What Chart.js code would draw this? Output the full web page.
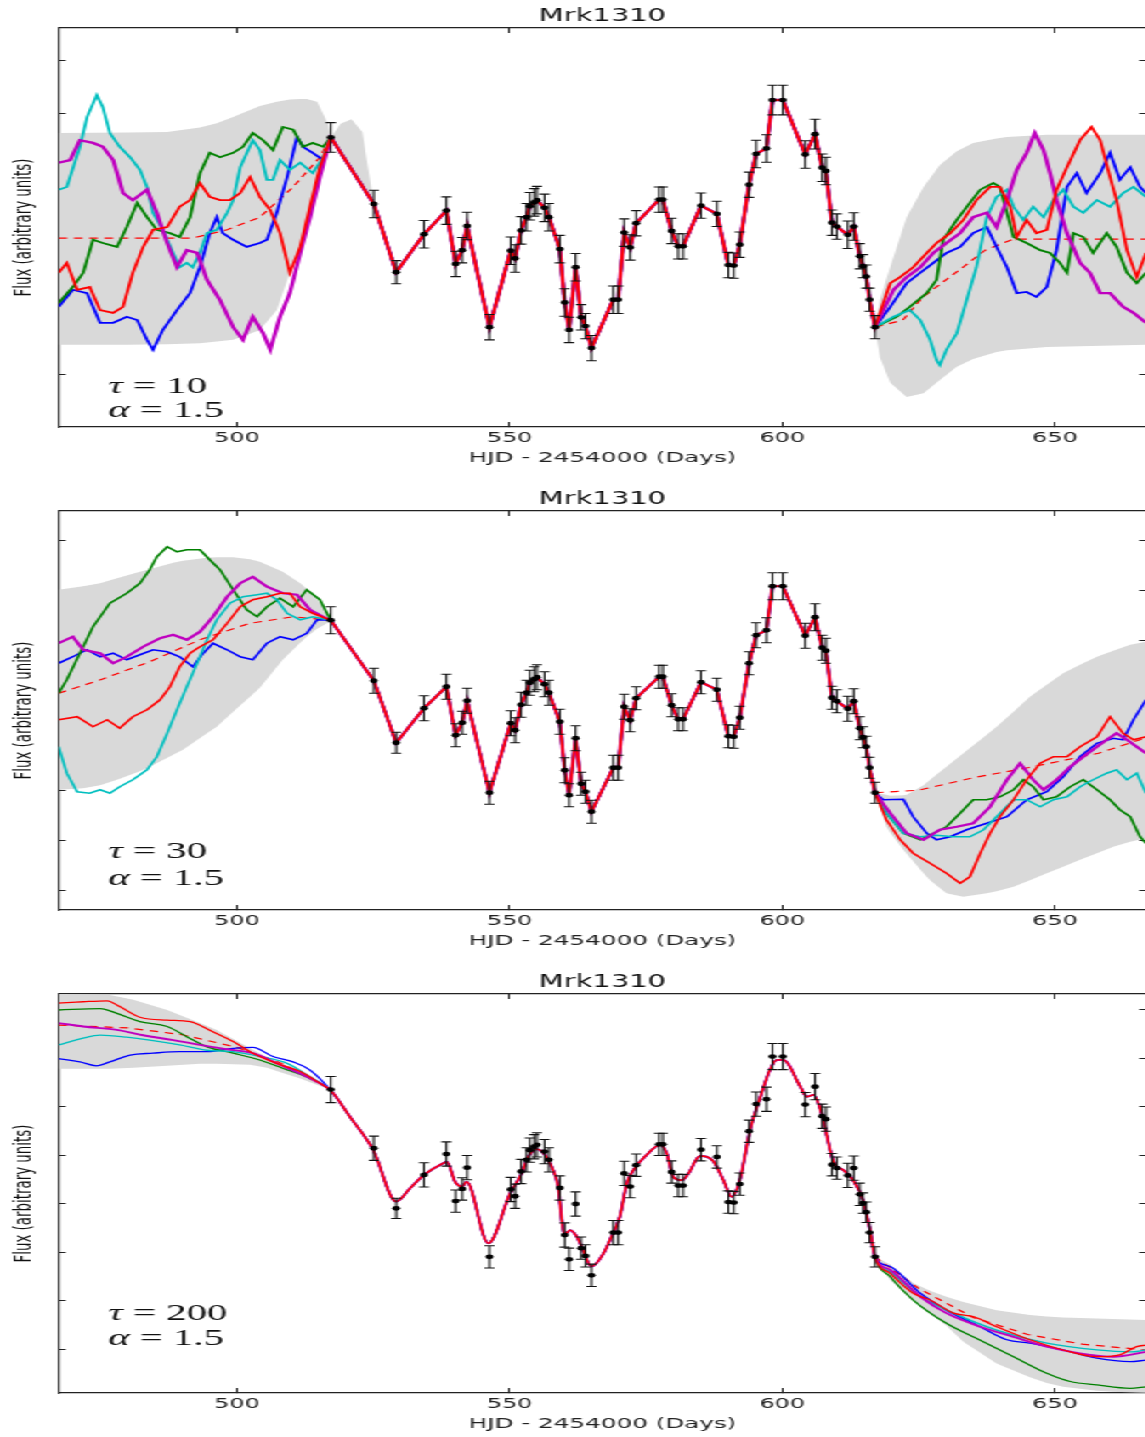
<!DOCTYPE html>
<html>
<head>
<meta charset="utf-8">
<title>Mrk1310</title>
<script src="https://cdn.jsdelivr.net/npm/chart.js@4.4.0/dist/chart.umd.min.js"></script>
<style>
  html, body { margin: 0; padding: 0; background: #fff; overflow: hidden; }
  /* the figure is drawn narrow and widened, which gives the stretched lettering */
  #stretch { width: 709px; transform: scaleX(1.6996); transform-origin: 0 0; }
  #stretch canvas { display: block; }
</style>
</head>
<body>
<div id="stretch">
  <canvas id="panel1" width="709" height="483"></canvas>
  <canvas id="panel2" width="709" height="483"></canvas>
  <canvas id="panel3" width="709" height="483"></canvas>
</div>
<script>
// Mrk1310 light curve with five simulated realisations per damping timescale

var xTicks = [500, 550, 600, 650];
var dayMin = 467.36, dayMax = 666.7;

// observed fluxes and 1-sigma errors
var obsDays = [517.2, 525.1, 529.2, 534.3, 538.4, 540.1, 541.3, 542.2, 546.3, 550.2,
               551.0, 552.1, 553.1, 553.7, 554.5, 555.0, 556.4, 557.2, 559.2, 560.1,
               560.9, 562.1, 563.1, 563.9, 565.0, 569.0, 569.9, 571.0, 572.1, 573.2,
               577.4, 578.1, 579.7, 580.9, 581.8, 585.1, 588.0, 590.1, 591.1, 592.2,
               593.9, 595.2, 597.1, 598.2, 600.1, 604.2, 606.0, 607.3, 608.0, 609.1,
               610.0, 612.0, 613.1, 614.2, 614.8, 615.4, 616.0, 617.0];
var obsFlux = [6.35, 5.14, 3.90, 4.59, 5.02, 4.05, 4.30, 4.74, 2.90, 4.29,
               4.15, 4.66, 4.90, 5.10, 5.17, 5.21, 5.07, 4.90, 4.32, 3.35,
               2.85, 3.99, 3.08, 2.92, 2.52, 3.40, 3.40, 4.62, 4.35, 4.79,
               5.22, 5.22, 4.65, 4.37, 4.37, 5.11, 4.96, 4.03, 4.02, 4.40,
               5.49, 6.05, 6.15, 7.03, 7.03, 6.04, 6.41, 5.80, 5.74, 4.80,
               4.73, 4.58, 4.73, 4.19, 4.01, 3.82, 3.40, 2.90];
var obsErr = [0.27, 0.25, 0.21, 0.25, 0.25, 0.23, 0.23, 0.25, 0.23, 0.25,
              0.25, 0.25, 0.25, 0.25, 0.25, 0.25, 0.25, 0.25, 0.25, 0.25,
              0.23, 0.25, 0.23, 0.23, 0.23, 0.25, 0.25, 0.25, 0.23, 0.23,
              0.23, 0.23, 0.23, 0.23, 0.23, 0.23, 0.23, 0.23, 0.23, 0.23,
              0.23, 0.25, 0.25, 0.27, 0.27, 0.25, 0.27, 0.25, 0.25, 0.23,
              0.23, 0.25, 0.25, 0.23, 0.21, 0.21, 0.21, 0.21];

// smooth track through the data for tau = 200
var fit3Days = [517.2, 520.7, 525.0, 529.2, 531.7, 534.3, 537.8, 538.5, 540.0, 541.3,
                542.1, 546.1, 550.1, 552.2, 553.4, 555.0, 556.5, 557.7, 558.9, 560.0,
                561.1, 562.3, 563.2, 565.0, 567.2, 568.4, 570.2, 571.5, 572.7, 575.1,
                577.6, 578.8, 580.0, 581.6, 582.8, 584.9, 587.3, 589.2, 590.7, 592.2,
                594.1, 595.9, 597.7, 599.0, 600.2, 603.3, 604.5, 605.7, 607.2, 609.4,
                611.2, 613.0, 614.8, 616.1, 617.0];
var fit3Flux = [6.33, 5.79, 5.10, 4.04, 4.31, 4.59, 4.83, 4.86, 4.45, 4.35,
                4.45, 3.18, 4.21, 4.62, 4.96, 5.12, 5.00, 4.76, 4.35, 3.35,
                3.45, 3.32, 3.11, 2.70, 2.97, 3.25, 3.73, 4.42, 4.69, 5.00,
                5.21, 5.04, 4.55, 4.48, 4.62, 4.98, 4.88, 4.48, 4.14, 4.48,
                5.52, 6.17, 6.75, 6.96, 6.96, 6.41, 6.20, 6.24, 5.86, 4.86,
                4.69, 4.48, 4.07, 3.45, 2.90];

// y tick positions of each panel
var yTicks1 = [2.04, 2.99, 3.94, 4.89, 5.84, 6.79, 7.74];
var yTicks2 = [0.95, 1.95, 2.95, 3.95, 4.95, 5.95, 6.95, 7.95];
var yTicks3 = [1, 2, 3, 4, 5, 6, 7, 8];

// 1-sigma envelopes (gray)
var b1LDays = [467.3, 480.0, 487.2, 493.2, 496.3, 499.3, 502.4, 504.2, 507.3, 509.7, 511.6, 512.8, 514.7, 516.7, 517.2, 519.0, 521.0, 523.0, 525.1];
var b1LHigh = [6.43, 6.44, 6.45, 6.53, 6.61, 6.72, 6.85, 6.92, 7.00, 7.04, 7.05, 7.05, 7.00, 6.60, 6.35, 6.60, 6.68, 6.45, 5.14];
var b1LLow  = [2.58, 2.58, 2.59, 2.61, 2.64, 2.67, 2.78, 2.85, 3.21, 3.89, 4.30, 4.90, 5.60, 6.20, 6.35, 6.05, 5.75, 5.45, 5.14];
var b1RDays = [617.0, 617.9, 619.8, 622.8, 625.9, 628.9, 632.0, 635.0, 639.3, 641.2, 648.5, 666.7];
var b1RHigh = [2.90, 3.40, 4.00, 4.90, 5.45, 5.85, 6.10, 6.25, 6.33, 6.36, 6.40, 6.40];
var b1RLow  = [2.90, 2.35, 1.89, 1.63, 1.70, 1.94, 2.18, 2.32, 2.45, 2.48, 2.54, 2.58];

var b2LDays = [467.3, 471.8, 474.9, 478.0, 482.2, 484.0, 488.3, 490.1, 494.5, 496.3, 499.3, 502.4, 504.2, 508.4, 511.6, 512.8, 514.7, 516.7, 517.2];
var b2LHigh = [6.96, 7.03, 7.09, 7.19, 7.32, 7.37, 7.50, 7.54, 7.60, 7.61, 7.61, 7.57, 7.52, 7.32, 7.09, 6.98, 6.76, 6.49, 6.35];
var b2LLow  = [2.96, 2.99, 3.05, 3.16, 3.33, 3.42, 3.66, 3.76, 4.09, 4.22, 4.52, 4.82, 5.00, 5.56, 5.90, 6.02, 6.18, 6.30, 6.35];
var b2RDays = [617.0, 619.1, 619.8, 622.2, 622.8, 625.9, 627.1, 630.1, 633.2, 637.5, 639.3, 642.4, 645.4, 648.5, 651.5, 654.6, 657.7, 660.7, 663.8, 666.7];
var b2RHigh = [2.90, 2.86, 2.84, 2.85, 2.86, 3.05, 3.16, 3.42, 3.69, 4.06, 4.22, 4.52, 4.82, 5.06, 5.29, 5.46, 5.62, 5.74, 5.86, 5.92];
var b2RLow  = [2.90, 2.22, 2.10, 1.76, 1.68, 1.29, 1.15, 0.89, 0.82, 0.89, 0.93, 1.02, 1.15, 1.29, 1.42, 1.56, 1.69, 1.82, 1.92, 1.99];

var b3LDays = [467.3, 476.7, 481.0, 487.2, 493.2, 496.3, 502.4, 505.5, 508.4, 511.6, 513.9, 516.7, 517.2];
var b3LHigh = [8.32, 8.30, 8.20, 7.99, 7.72, 7.58, 7.20, 7.02, 6.88, 6.75, 6.62, 6.38, 6.33];
var b3LLow  = [6.78, 6.78, 6.80, 6.84, 6.88, 6.88, 6.86, 6.80, 6.69, 6.58, 6.48, 6.36, 6.33];
var b3RDays = [617.0, 619.8, 621.0, 624.0, 627.1, 630.1, 633.2, 639.3, 645.4, 648.5, 651.5, 657.7, 660.6, 666.7];
var b3RHigh = [2.90, 2.74, 2.62, 2.36, 2.20, 2.08, 1.97, 1.80, 1.70, 1.67, 1.65, 1.63, 1.62, 1.60];
var b3RLow  = [2.90, 2.42, 2.30, 2.00, 1.72, 1.48, 1.15, 0.70, 0.42, 0.30, 0.22, 0.14, 0.12, 0.10];

// predicted mean (red dashed) in the gaps
var p1MeanL = [[467.3, 4.52], [491.9, 4.52], [498.2, 4.67], [504.2, 4.90], [510.3, 5.45], [515.2, 5.99], [517.2, 6.35]];
var p1MeanR = [[617.0, 2.90], [622.1, 3.03], [625.8, 3.45], [632.6, 3.95], [637.2, 4.30], [642.3, 4.50], [666.7, 4.50]];
var p2MeanL = [[467.3, 4.89], [475.0, 5.16], [484.0, 5.52], [493.2, 5.96], [502.4, 6.29], [510.3, 6.42], [517.2, 6.35]];
var p2MeanR = [[617.0, 2.90], [625.0, 2.95], [635.0, 3.20], [645.0, 3.40], [658.0, 3.69], [666.7, 4.00]];
var p3MeanL = [[467.3, 7.68], [480.0, 7.62], [490.0, 7.48], [500.0, 7.22], [508.0, 6.90], [517.2, 6.35]];
var p3MeanR = [[617.0, 2.90], [625.0, 2.25], [635.0, 1.65], [645.0, 1.30], [655.0, 1.10], [666.7, 0.98]];

// realisations, tau = 10
var p1L_blue = [[467.3,3.27],[469.9,3.58],[472.5,3.52],[474.9,2.98],[477.3,2.98],[479.8,3.09],[481.7,3.03],[483.5,2.67],[484.6,2.49],[486.4,2.85],[489.0,3.21],[491.4,3.52],[493.2,3.99],[495.0,4.61],[496.3,4.90],[497.4,4.61],[499.3,4.49],[501.8,4.36],[504.2,4.43],[505.5,4.49],[507.3,4.98],[509.2,5.63],[511.0,6.36],[512.1,6.18],[513.9,6.07],[515.8,5.94]];
var p1L_green = [[467.3,3.34],[469.9,3.63],[471.8,3.89],[473.6,4.49],[475.4,4.43],[478.0,4.36],[479.8,4.72],[481.7,5.16],[483.5,4.90],[485.3,4.67],[487.7,4.61],[489.5,4.54],[491.4,4.90],[493.2,5.70],[495.0,6.07],[496.9,5.99],[499.3,6.07],[501.1,6.18],[502.9,6.43],[504.8,6.30],[506.6,6.12],[508.4,6.54],[510.3,6.49],[512.1,6.18],[513.9,6.25],[515.8,6.18]];
var p1L_red = [[467.3,3.89],[468.8,4.07],[470.7,3.58],[473.0,3.63],[474.9,3.21],[477.3,3.16],[479.1,3.27],[480.9,3.89],[482.8,4.36],[484.6,4.67],[487.2,4.72],[489.5,5.09],[491.4,5.21],[493.2,5.52],[495.0,5.27],[496.9,5.21],[498.7,5.21],[500.6,5.34],[502.4,5.63],[504.2,5.27],[506.1,5.03],[507.9,4.61],[509.7,3.89],[511.6,4.36],[513.4,5.09],[515.2,5.81]];
var p1L_cyan = [[467.3,5.40],[468.8,5.45],[471.2,6.18],[472.5,6.72],[474.3,7.12],[475.4,6.90],[476.7,6.43],[478.5,6.18],[480.4,5.99],[482.2,5.76],[483.5,5.45],[484.6,4.98],[486.4,4.67],[488.3,4.25],[489.5,3.99],[490.8,4.07],[491.9,3.99],[493.2,4.25],[494.5,4.61],[496.3,4.67],[498.2,4.98],[499.3,5.21],[500.6,5.81],[502.9,6.30],[504.2,6.12],[505.5,5.58],[506.6,5.58],[507.9,5.94],[509.7,5.76],[511.6,5.89],[513.9,5.70],[515.8,5.99]];
var p1L_magenta = [[467.3,5.89],[469.4,5.94],[471.2,6.30],[473.6,6.25],[475.4,6.18],[477.3,5.94],[479.1,5.34],[480.9,5.21],[483.5,5.40],[485.3,4.98],[487.2,4.43],[489.0,3.99],[490.8,4.30],[492.7,4.25],[494.5,3.76],[496.9,3.39],[499.3,2.90],[501.1,2.67],[502.9,3.09],[504.8,2.79],[506.1,2.49],[507.9,3.09],[509.7,3.52],[511.6,4.25],[513.4,4.90],[515.2,5.63]];

var p1R_blue = [[619.8,3.27],[622.8,3.70],[625.3,3.89],[627.7,4.07],[630.1,4.25],[632.6,4.36],[635.0,4.61],[637.5,4.72],[639.3,4.36],[641.2,3.99],[643.0,3.52],[644.8,3.54],[646.6,3.45],[648.5,3.63],[650.3,4.30],[652.2,5.45],[654.0,5.70],[655.8,5.34],[658.3,5.70],[660.1,6.07],[661.9,5.58],[663.8,5.81],[665.6,5.45],[666.7,5.34]];
var p1R_green = [[621.0,3.09],[623.4,3.27],[626.5,3.52],[628.3,3.76],[629.5,4.49],[632.0,4.85],[634.4,5.16],[636.3,5.40],[638.7,5.52],[639.9,5.45],[642.4,4.54],[644.8,4.43],[647.3,4.30],[649.1,4.25],[650.9,4.07],[652.2,3.89],[653.4,4.61],[655.2,4.54],[657.0,4.25],[659.5,4.61],[661.3,4.36],[663.2,3.89],[665.0,3.70],[666.7,3.89]];
var p1R_red = [[619.8,3.70],[621.6,3.81],[624.0,3.99],[626.5,4.25],[628.3,4.43],[630.8,4.61],[633.2,4.85],[635.6,5.21],[638.1,5.45],[639.9,5.45],[641.8,5.09],[643.0,4.54],[644.8,4.85],[646.6,4.61],[648.5,4.67],[650.3,5.40],[652.2,5.81],[654.6,6.30],[656.7,6.54],[658.3,6.30],[660.1,5.63],[661.3,5.21],[663.2,4.30],[665.0,3.81],[666.7,4.25]];
var p1R_cyan = [[620.4,3.09],[623.4,3.21],[625.3,3.03],[627.1,2.67],[628.3,2.30],[628.9,2.21],[630.1,2.49],[632.0,2.79],[633.8,3.39],[635.6,3.99],[637.5,4.90],[639.3,5.27],[641.2,5.40],[642.4,5.09],[644.2,4.85],[646.0,5.09],[647.9,4.90],[649.7,5.21],[651.5,5.40],[653.4,5.09],[655.2,4.98],[657.7,5.21],[660.1,5.09],[662.5,5.34],[664.4,5.45],[666.7,5.27]];
var p1R_magenta = [[620.4,3.58],[622.8,3.81],[625.3,3.99],[627.7,4.25],[630.1,4.43],[632.6,4.61],[635.0,4.90],[637.5,4.98],[639.3,4.72],[641.2,5.21],[643.0,5.76],[644.8,6.07],[646.3,6.43],[647.9,6.12],[649.1,5.70],[650.3,5.21],[652.2,4.61],[654.6,4.07],[656.4,3.89],[658.3,3.52],[660.1,3.52],[662.5,3.27],[664.4,3.16],[666.7,2.98]];

// realisations, tau = 30
var p2L_blue = [[467.3,5.49],[469.9,5.62],[472.5,5.76],[474.9,5.62],[477.3,5.69],[479.8,5.56],[482.2,5.66],[484.6,5.76],[487.2,5.72],[489.5,5.62],[491.9,5.42],[493.8,5.69],[495.6,5.89],[498.2,5.76],[500.6,5.62],[502.9,5.56],[505.5,5.89],[507.9,6.02],[510.3,5.96],[512.8,6.09],[514.7,6.36]];
var p2L_green = [[467.3,4.89],[468.8,5.16],[471.2,5.69],[473.6,6.22],[476.7,6.69],[479.8,6.89],[482.2,7.09],[484.0,7.36],[485.3,7.62],[487.2,7.82],[489.0,7.72],[490.8,7.76],[493.2,7.76],[495.0,7.56],[496.9,7.36],[499.3,6.96],[501.8,6.56],[503.7,6.42],[505.5,6.62],[507.9,6.79],[510.3,6.62],[512.8,6.96],[515.2,6.76]];
var p2L_red = [[467.3,4.36],[470.7,4.42],[473.6,4.22],[476.2,4.36],[478.5,4.19],[480.9,4.42],[483.5,4.56],[485.9,4.76],[487.7,5.02],[489.5,5.42],[491.4,5.69],[493.2,5.82],[495.6,5.96],[498.2,6.29],[500.6,6.62],[502.9,6.76],[505.5,6.82],[507.9,6.89],[509.7,6.89],[511.6,6.62],[513.9,6.49]];
var p2L_cyan = [[467.3,3.82],[468.8,3.29],[470.7,2.92],[473.0,2.89],[474.9,2.96],[476.7,2.89],[478.5,3.02],[480.9,3.16],[483.5,3.36],[485.3,3.62],[487.2,4.09],[489.0,4.56],[490.8,5.02],[492.7,5.49],[494.5,5.96],[496.3,6.36],[498.7,6.69],[501.1,6.82],[503.7,6.86],[505.5,6.89],[507.3,6.76],[509.2,6.49],[511.6,6.36],[513.9,6.42]];
var p2L_magenta = [[467.3,5.89],[469.9,6.02],[471.8,5.76],[474.9,5.69],[477.3,5.49],[479.8,5.62],[482.8,5.82],[485.9,5.99],[488.3,6.06],[490.8,5.96],[493.2,6.12],[495.6,6.42],[498.2,6.82],[500.6,7.09],[502.9,7.22],[505.5,7.02],[508.4,6.89],[511.0,6.86],[513.4,6.56],[515.8,6.42]];

var p2R_blue = [[618.5,2.76],[622.2,2.77],[624.0,2.42],[626.5,2.09],[628.3,1.96],[630.8,2.02],[633.8,2.16],[637.5,2.29],[641.2,2.42],[644.8,2.76],[648.5,2.92],[651.5,3.22],[654.6,3.62],[657.7,3.89],[660.7,3.99],[662.5,3.96],[664.4,4.36],[666.7,4.76]];
var p2R_green = [[619.1,2.49],[622.2,2.09],[625.3,1.96],[627.7,2.09],[630.1,2.22],[632.6,2.49],[635.0,2.76],[637.5,2.76],[639.9,2.82],[642.4,2.96],[644.2,3.16],[646.0,3.02],[647.9,2.76],[650.3,2.82],[652.8,3.02],[655.2,3.16],[657.7,2.96],[660.1,2.76],[661.9,2.56],[663.8,2.42],[665.6,2.02],[666.7,1.89]];
var p2R_red = [[619.1,2.36],[621.6,1.96],[624.0,1.69],[627.1,1.49],[630.1,1.29],[632.6,1.09],[634.4,1.22],[636.3,1.69],[638.1,2.09],[639.9,2.42],[642.4,2.76],[644.8,3.16],[647.3,3.49],[649.7,3.62],[652.2,3.62],[654.6,3.82],[657.7,4.02],[660.1,4.42],[662.5,4.09],[664.4,3.96],[666.7,4.02]];
var p2R_cyan = [[619.1,2.49],[622.2,2.09],[625.3,2.02],[628.3,2.05],[631.4,2.02],[634.4,2.02],[636.9,2.16],[639.3,2.42],[642.4,2.76],[644.8,2.76],[647.3,2.62],[649.7,2.76],[652.2,2.82],[654.6,3.02],[657.0,3.16],[659.5,3.29],[661.3,3.36],[663.2,3.16],[665.0,3.29],[666.7,2.89]];
var p2R_magenta = [[619.8,2.49],[622.8,2.09],[625.9,1.96],[628.9,2.16],[632.0,2.22],[635.0,2.29],[638.1,2.62],[641.2,3.16],[643.6,3.49],[646.0,3.16],[647.9,2.96],[650.3,3.16],[652.8,3.42],[655.2,3.62],[657.7,3.82],[659.5,3.96],[661.3,4.09],[663.2,3.96],[665.0,3.82],[666.7,3.69]];

// realisations, tau = 200
var p3L_blue = [[467.3,6.99],[471.2,6.92],[474.3,6.84],[476.7,6.92],[480.4,7.06],[484.6,7.10],[489.5,7.13],[494.5,7.13],[499.3,7.20],[502.9,7.22],[506.6,7.03],[510.3,6.92],[513.4,6.75]];
var p3L_green = [[467.3,7.99],[474.9,8.02],[478.0,7.92],[482.2,7.75],[487.2,7.65],[490.8,7.44],[494.5,7.23],[499.3,7.10],[504.2,6.96],[508.4,6.79],[512.8,6.61]];
var p3L_red = [[467.3,8.13],[471.8,8.16],[476.2,8.18],[478.5,8.06],[482.2,7.84],[487.2,7.78],[491.4,7.75],[495.6,7.54],[499.3,7.34],[502.9,7.10],[507.3,6.89],[511.6,6.72],[515.2,6.48]];
var p3L_cyan = [[467.3,7.27],[471.8,7.41],[474.9,7.47],[479.8,7.43],[484.0,7.37],[489.5,7.27],[494.5,7.16],[499.3,7.13],[504.2,7.03],[509.2,6.89],[513.4,6.61]];
var p3L_magenta = [[467.3,7.72],[471.8,7.65],[478.0,7.58],[482.8,7.47],[488.3,7.37],[493.2,7.27],[498.2,7.18],[502.9,7.10],[507.9,6.86],[511.6,6.68],[515.2,6.48]];

var p3R_blue = [[619.8,2.70],[625.3,2.15],[630.1,1.80],[636.3,1.46],[641.2,1.19],[645.4,1.12],[651.5,0.98],[657.7,0.81],[663.8,0.74],[666.7,0.77]];
var p3R_green = [[619.8,2.49],[624.0,2.01],[630.1,1.53],[636.3,1.18],[642.4,0.84],[648.5,0.50],[652.8,0.33],[657.7,0.26],[663.8,0.19],[666.7,0.22]];
var p3R_red = [[619.8,2.56],[624.0,2.15],[627.1,2.01],[631.4,1.74],[635.0,1.67],[639.3,1.46],[645.4,1.19],[651.5,0.98],[657.7,0.84],[661.9,0.88],[665.0,1.05],[666.7,1.08]];
var p3R_cyan = [[619.8,2.59],[625.3,2.08],[631.4,1.74],[639.3,1.39],[648.5,1.12],[657.7,0.98],[663.8,0.94],[666.7,0.98]];
var p3R_magenta = [[619.8,2.63],[625.3,2.08],[630.1,1.74],[636.3,1.46],[642.4,1.25],[648.5,1.05],[654.6,0.91],[660.7,0.84],[666.7,0.94]];

Chart.defaults.font.family = '"DejaVu Sans", sans-serif';
Chart.defaults.color = '#1a1a1a';

var simOrder = ['blue', 'green', 'cyan', 'magenta', 'red'];   // bottom to top
var simColors = { blue: '#0000ff', green: '#008000', cyan: '#00bfbf', magenta: '#bf00bf', red: '#ff0000' };
var axisColor = '#222';

function xy(list) { return list.map(function (p) { return { x: p[0], y: p[1] }; }); }
function zipXY(days, vals) { return days.map(function (d, i) { return { x: d, y: vals[i] }; }); }

var obsPoints = zipXY(obsDays, obsFlux);
var fit3Points = zipXY(fit3Days, fit3Flux);

var panels = [
  { canvas: 'panel1', tau: '10', yMin: 1.085, yMax: 8.34, yTicks: yTicks1, lineWidth: 1.8, smooth: false,
    middle: obsPoints,
    left:  { blue: p1L_blue, green: p1L_green, cyan: p1L_cyan, magenta: p1L_magenta, red: p1L_red },
    right: { blue: p1R_blue, green: p1R_green, cyan: p1R_cyan, magenta: p1R_magenta, red: p1R_red },
    band: [[b1LDays, b1LHigh, b1LLow], [b1RDays, b1RHigh, b1RLow]],
    mean: [p1MeanL, p1MeanR], noteRows: [365, 389] },
  { canvas: 'panel2', tau: '30', yMin: 0.555, yMax: 8.535, yTicks: yTicks2, lineWidth: 1.6, smooth: false,
    middle: obsPoints,
    left:  { blue: p2L_blue, green: p2L_green, cyan: p2L_cyan, magenta: p2L_magenta, red: p2L_red },
    right: { blue: p2R_blue, green: p2R_green, cyan: p2R_cyan, magenta: p2R_magenta, red: p2R_red },
    band: [[b2LDays, b2LHigh, b2LLow], [b2RDays, b2RHigh, b2RLow]],
    mean: [p2MeanL, p2MeanR], noteRows: [347, 374] },
  { canvas: 'panel3', tau: '200', yMin: 0.093, yMax: 8.32, yTicks: yTicks3, lineWidth: 1.3, smooth: true,
    middle: fit3Points,
    left:  { blue: p3L_blue, green: p3L_green, cyan: p3L_cyan, magenta: p3L_magenta, red: p3L_red },
    right: { blue: p3R_blue, green: p3R_green, cyan: p3R_cyan, magenta: p3R_magenta, red: p3R_red },
    band: [[b3LDays, b3LHigh, b3LLow], [b3RDays, b3RHigh, b3RLow]],
    mean: [p3MeanL, p3MeanR], noteRows: [326, 351] }
];

// vertical error bars with caps, under the black dots
var errorBars = {
  id: 'errorBars',
  beforeDatasetDraw: function (chart, args) {
    var ds = chart.data.datasets[args.index];
    if (!ds.errors) return;
    var ctx = chart.ctx, xs = chart.scales.x, ys = chart.scales.y, a = chart.chartArea;
    ctx.save();
    ctx.beginPath();
    ctx.rect(a.left, a.top, a.right - a.left, a.bottom - a.top);
    ctx.clip();
    ctx.strokeStyle = '#111';
    ctx.lineWidth = 1.1;
    ds.data.forEach(function (pt, i) {
      var px = xs.getPixelForValue(pt.x);
      var top = ys.getPixelForValue(pt.y + ds.errors[i]);
      var bot = ys.getPixelForValue(pt.y - ds.errors[i]);
      ctx.beginPath();
      ctx.moveTo(px, top); ctx.lineTo(px, bot);
      ctx.moveTo(px - 3, top); ctx.lineTo(px + 3, top);
      ctx.moveTo(px - 3, bot); ctx.lineTo(px + 3, bot);
      ctx.stroke();
    });
    ctx.restore();
  }
};

// tau / alpha label in the lower left corner
var paramNote = {
  id: 'paramNote',
  afterDatasetsDraw: function (chart, args, opts) {
    var ctx = chart.ctx, a = chart.chartArea;
    var rows = [['\u03c4', ' = ' + opts.tau, opts.rows[0]], ['\u03b1', ' = ' + opts.alpha, opts.rows[1]]];
    ctx.save();
    ctx.fillStyle = '#111';
    ctx.textBaseline = 'alphabetic';
    rows.forEach(function (r) {
      var x = a.left + opts.dx, y = a.top + r[2];
      ctx.font = 'italic 24px "Liberation Serif"';
      ctx.fillText(r[0], x, y);
      var w = ctx.measureText(r[0]).width;
      ctx.font = '24px "Liberation Serif"';
      ctx.fillText(r[1], x + w, y);
    });
    ctx.restore();
  }
};

function tickAxis(extra) {
  var base = {
    ticks: { display: false },
    grid: { drawOnChartArea: false, color: axisColor, lineWidth: 1 },
    border: { display: true, color: axisColor, width: 1.2 }
  };
  return Object.assign(base, extra);
}

panels.forEach(function (p) {
  var datasets = [];

  datasets.push({ data: obsPoints, errors: obsErr, showLine: false, pointRadius: 2.4, pointHoverRadius: 0,
                  pointBackgroundColor: '#000', pointBorderWidth: 0, order: 0 });

  simOrder.forEach(function (name, k) {
    datasets.push({
      data: xy(p.left[name]).concat(p.middle, xy(p.right[name])),
      borderColor: simColors[name],
      borderWidth: name === 'magenta' ? p.lineWidth + 0.6 : p.lineWidth,
      pointRadius: 0, pointHoverRadius: 0, fill: false,
      cubicInterpolationMode: p.smooth ? 'monotone' : 'default',
      order: 6 - k
    });
  });

  p.mean.forEach(function (m) {
    datasets.push({ data: xy(m), borderColor: '#ff0000', borderWidth: 1.2, borderDash: [5, 4],
                    pointRadius: 0, fill: false, order: 7 });
  });

  p.band.forEach(function (b) {
    datasets.push({ data: zipXY(b[0], b[1]), borderColor: 'rgba(0,0,0,0)', borderWidth: 0,
                    backgroundColor: '#d9d9d9', fill: '+1', pointRadius: 0, order: 8 });
    datasets.push({ data: zipXY(b[0], b[2]), borderColor: 'rgba(0,0,0,0)', borderWidth: 0,
                    fill: false, pointRadius: 0, order: 8 });
  });

  var setXTicks = function (s) { s.ticks = xTicks.map(function (v) { return { value: v }; }); };
  var setYTicks = function (s) { s.ticks = p.yTicks.map(function (v) { return { value: v }; }); };

  new Chart(document.getElementById(p.canvas), {
    type: 'line',
    data: { datasets: datasets },
    plugins: [errorBars, paramNote],
    options: {
      responsive: false,
      animation: false,
      devicePixelRatio: 1,
      events: [],
      layout: { padding: 0 },
      plugins: {
        legend: { display: false },
        tooltip: { enabled: false },
        paramNote: { tau: p.tau, alpha: '1.5', dx: 29, rows: p.noteRows }
      },
      scales: {
        x: tickAxis({
          type: 'linear', position: 'bottom', min: dayMin, max: dayMax,
          afterBuildTicks: setXTicks,
          afterFit: function (s) { s.height = 56; },
          ticks: { display: true, font: { size: 14 }, padding: 7.5, maxRotation: 0, autoSkip: false, color: axisColor },
          grid: { drawOnChartArea: false, color: axisColor, lineWidth: 1, tickLength: -5 },
          title: { display: true, text: 'HJD - 2454000 (Days)', font: { size: 14.5 }, color: axisColor,
                   padding: { top: 0, bottom: 16 } }
        }),
        xTop: tickAxis({
          axis: 'x', type: 'linear', position: 'top', min: dayMin, max: dayMax,
          afterBuildTicks: setXTicks,
          afterFit: function (s) { s.height = 28; },
          grid: { drawOnChartArea: false, color: axisColor, lineWidth: 1, tickLength: -5 },
          title: { display: true, text: 'Mrk1310', font: { size: 17 }, color: '#111',
                   padding: { top: 6, bottom: 0 } }
        }),
        y: tickAxis({
          type: 'linear', position: 'left', min: p.yMin, max: p.yMax,
          afterBuildTicks: setYTicks,
          afterFit: function (s) { s.width = 34.7; },
          grid: { drawOnChartArea: false, color: axisColor, lineWidth: 1, tickLength: -4 },
          title: { display: true, text: 'Flux (arbitrary units)', font: { size: 13.4 }, color: '#111',
                   padding: { top: 6, bottom: 0 } }
        }),
        yRight: tickAxis({
          axis: 'y', type: 'linear', position: 'right', min: p.yMin, max: p.yMax,
          afterBuildTicks: setYTicks,
          afterFit: function (s) { s.width = 34.7; },
          grid: { drawOnChartArea: false, color: axisColor, lineWidth: 1, tickLength: -4 }
        })
      }
    }
  });
});
</script>
</body>
</html>
